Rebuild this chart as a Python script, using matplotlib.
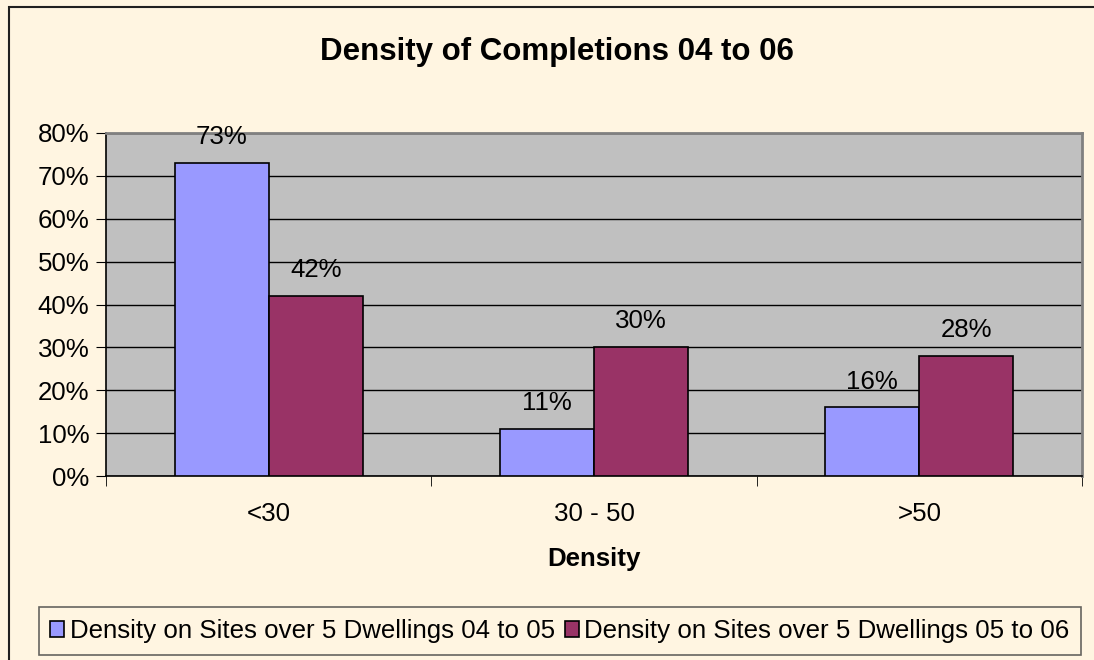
import matplotlib.pyplot as plt
import matplotlib.patches as mpatches
import numpy as np

plt.rcParams['font.family'] = ['Liberation Sans', 'DejaVu Sans']

categories = ['<30', '30 - 50', '>50']
series_names = ['Density on Sites over 5 Dwellings 04 to 05',
                'Density on Sites over 5 Dwellings 05 to 06']
values_0405 = [73, 11, 16]
values_0506 = [42, 30, 28]
colors = ['#9999FF', '#993366']

fs = 18.6
fig = plt.figure(figsize=(10.94, 6.6), dpi=100, facecolor='#FFF5E1')
# chart outer border
fig.patches.append(mpatches.Rectangle((9/1094, -0.1), 1.1, 1 - 7/660 + 0.1,
                                      transform=fig.transFigure, fill=False,
                                      edgecolor='#202020', linewidth=1.5))

ax = fig.add_axes([106/1094, 1 - 476/660, (1082 - 106)/1094, (476 - 133)/660])
ax.set_facecolor('#C0C0C0')

x = np.arange(len(categories))
w = 0.289
b1 = ax.bar(x - w/2, values_0405, w, color=colors[0], edgecolor='black', linewidth=1.2,
            label=series_names[0], zorder=3)
b2 = ax.bar(x + w/2, values_0506, w, color=colors[1], edgecolor='black', linewidth=1.2,
            label=series_names[1], zorder=3)

for bars, vals in [(b1, values_0405), (b2, values_0506)]:
    for r, v in zip(bars, vals):
        ax.annotate('%d%%' % v, (r.get_x() + r.get_width()/2, v), xytext=(0, 10),
                    textcoords='offset points', ha='center', va='bottom', fontsize=fs)

ax.set_xlim(-0.5, 2.5)
ax.set_ylim(0, 80)
ax.set_yticks(range(0, 81, 10))
ax.set_yticklabels(['%d%%' % t for t in range(0, 81, 10)], fontsize=fs)
ax.yaxis.grid(True, color='black', linewidth=1, zorder=0)
ax.set_axisbelow(True)

ax.set_xticks(x)
ax.set_xticklabels(categories, fontsize=fs)
ax.tick_params(axis='x', length=0, pad=19)
ax.set_xticks([-0.5, 0.5, 1.5, 2.5], minor=True)
ax.tick_params(axis='x', which='minor', length=7, direction='out', color='black')
ax.tick_params(axis='y', length=7, direction='out', pad=5)
ax.set_xlabel('Density', fontsize=fs, fontweight='bold', labelpad=15)

for s in ['top', 'right']:
    ax.spines[s].set_color('#808080')
    ax.spines[s].set_linewidth(2)
for s in ['left', 'bottom']:
    ax.spines[s].set_color('black')
    ax.spines[s].set_linewidth(1.2)

fig.text(557/1094, 1 - 52/660, 'Density of Completions 04 to 06', ha='center', va='center',
         fontsize=22.5, fontweight='bold')

leg = fig.legend(handles=[b1, b2], loc='center', bbox_to_anchor=(560/1094, 1 - 631/660),
                 ncol=2, fontsize=fs, frameon=True, fancybox=False, edgecolor='#404040',
                 facecolor='#FFF5E1', handlelength=0.55, handleheight=0.55, handletextpad=0.2,
                 columnspacing=0.4, borderpad=0.45, borderaxespad=0)
leg.get_frame().set_linewidth(1.2)

fig.savefig('out.png', dpi=100, facecolor=fig.get_facecolor())
